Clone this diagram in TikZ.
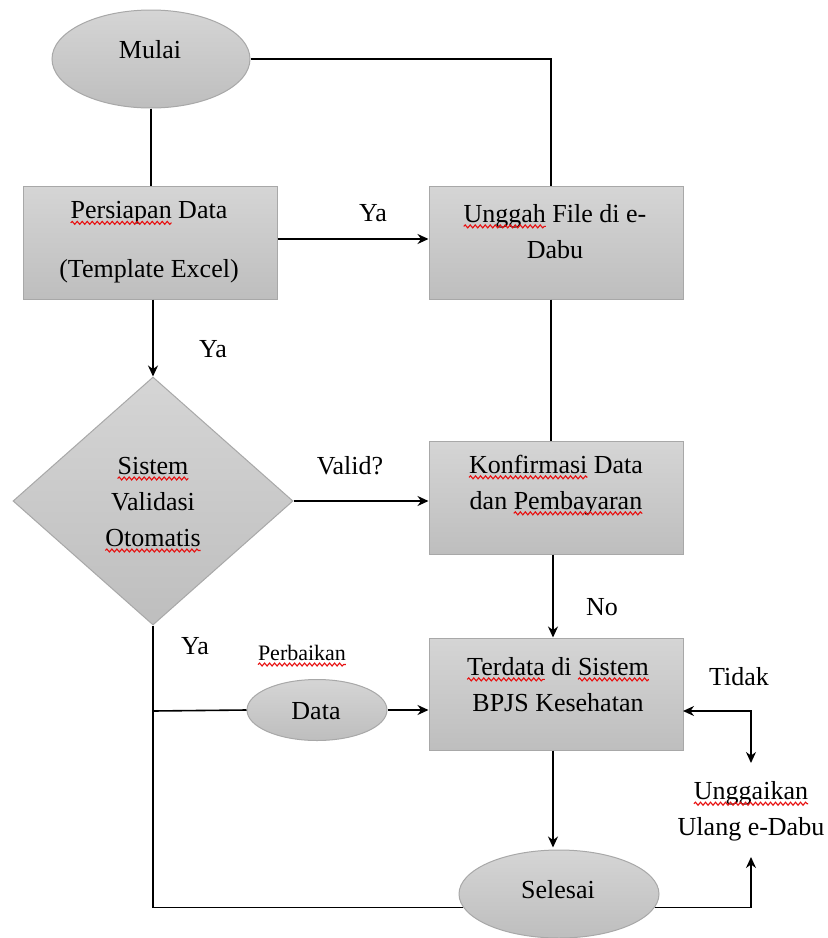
\documentclass[tikz,border=0pt]{standalone}
\usepackage{fontspec}
\setmainfont{Liberation Serif}
\usetikzlibrary{shapes.geometric,arrows.meta,calc,decorations.pathmorphing}
\definecolor{gtop}{HTML}{D5D5D5}
\definecolor{gbot}{HTML}{BEBEBE}
\definecolor{gedge}{HTML}{A8A8A8}
\definecolor{spell}{HTML}{E81010}
\newsavebox\sqbox
\newcommand\sqig[1]{\sbox\sqbox{#1}\usebox\sqbox\tikz[overlay,baseline=0pt,x=1pt,y=1pt]\draw[spell, line width=1.1pt, decorate, decoration={snake, amplitude=1.5pt, segment length=5pt}] (-\wd\sqbox,-4pt) -- (0pt,-4pt);}
\tikzset{
  shapebox/.style={draw=gedge, line width=1pt, top color=gtop, bottom color=gbot, inner sep=0pt},
  procbox/.style={shapebox, rectangle, minimum width=254pt, minimum height=113pt},
  termin/.style={shapebox, ellipse},
  decide/.style={shapebox, diamond, minimum width=280pt, minimum height=248pt},
  txt/.style={font=\fontsize{26}{36}\selectfont, align=center, inner sep=0pt},
  lbl/.style={font=\fontsize{26}{36}\selectfont, inner sep=0pt},
  conn/.style={line width=1.6pt, black},
  arr/.style={conn, -{Stealth[length=11pt,width=10pt]}},
  darr/.style={conn, {Stealth[length=11pt,width=10pt]}-{Stealth[length=11pt,width=10pt]}}
}
\begin{document}
\begin{tikzpicture}[x=1pt,y=-1pt]
\useasboundingbox[fill=white] (0,0) rectangle (828,938);
% shapes
\node[termin, minimum width=198pt, minimum height=98pt] (mulai) at (151,59) {};
\node[procbox] (persiapan) at (150,242.5) {};
\node[procbox] (unggah) at (556,242.5) {};
\node[decide] (sistem) at (153,501) {};
\node[procbox] (konfirmasi) at (556,497.5) {};
\node[procbox, minimum height=112pt] (terdata) at (556,694) {};
\node[termin, minimum width=140pt, minimum height=61pt] (data) at (317,710) {};
\node[termin, minimum width=200pt, minimum height=88pt] (selesai) at (559,894) {};
% texts
\node[txt] (mulait) at (150,50) {Mulai};
\node[txt] (persiapant) at (149,242.5) {\sqig{Persiapan} Data\\[23pt](Template Excel)};
\node[txt] (unggaht) at (555,231.5) {\sqig{Unggah} File di e-\\Dabu};
\node[txt] (sistemt) at (153,502) {\sqig{Sistem}\\Validasi\\\sqig{Otomatis}};
\node[txt] (konfirmasit) at (556,485) {\sqig{Konfirmasi} Data\\dan \sqig{Pembayaran}};
\node[txt] (terdatat) at (558,684.5) {\sqig{Terdata} di \sqig{Sistem}\\BPJS Kesehatan};
\node[txt] (datat) at (316,711) {Data};
\node[txt] (selesait) at (558,890) {Selesai};
\node[txt] (ulang) at (751,811.5) {\sqig{Unggaikan}\\Ulang e-Dabu};
% labels
\node[lbl] (ya1) at (373,213) {Ya};
\node[lbl] (ya2) at (213,349) {Ya};
\node[lbl] (valid) at (350,466) {Valid?};
\node[lbl] (no) at (602,607) {No};
\node[lbl] (ya3) at (195,646) {Ya};
\node[lbl, font=\fontsize{22}{28}\selectfont] (perbaikan) at (302,653) {\sqig{Perbaikan}};
\node[lbl] (tidak) at (739,677) {Tidak};
% helper coordinates
\coordinate (ulangtop) at (751,763);
\coordinate (ulangbot) at (751,857);
\coordinate (branch) at (153,711);
\coordinate (tdR) at (683,711);
% connectors
\draw[conn] (mulai.east) -| ([xshift=-5pt]unggah.north);
\draw[conn] (mulai.south) -- (mulai.south |- persiapan.north);
\draw[arr] (persiapan.east |- 0,239) -- (unggah.west |- 0,239);
\draw[conn] ([xshift=-5pt]unggah.south) -- ([xshift=-5pt]konfirmasi.north);
\draw[arr] ([xshift=3pt]persiapan.south) -- (sistem.north);
\draw[arr] (sistem.east) -- (sistem.east -| konfirmasi.west);
\draw[arr] ([xshift=-3pt]konfirmasi.south) -- ([xshift=-3pt]terdata.north);
\draw[conn] (sistem.south) |- (selesai.188);
\draw[conn] (branch) -- (data.west);
\draw[arr] (data.east) -- (data.east -| terdata.west);
\draw[arr] ([xshift=-3pt]terdata.south) -- ([xshift=-3pt,yshift=2pt]terdata.south |- selesai.north);
\draw[arr] (selesai.-8) -| (ulangbot);
\draw[darr] (ulangtop) |- (tdR);
\end{tikzpicture}
\end{document}
